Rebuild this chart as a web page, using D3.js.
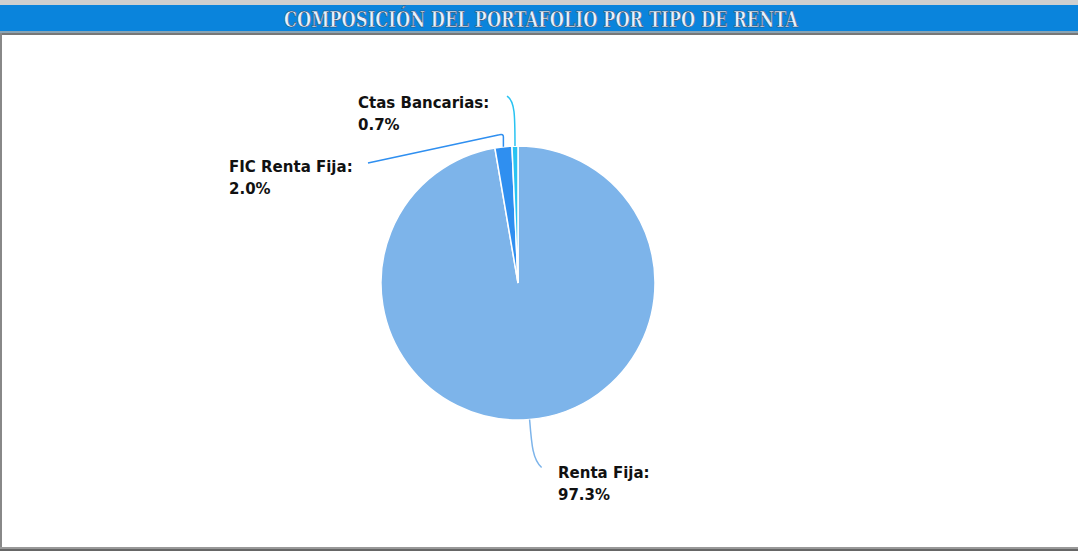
<!DOCTYPE html>
<html>
<head>
<meta charset="utf-8">
<script src="https://cdn.jsdelivr.net/npm/d3@7"></script>
<style>
  body { margin: 0; background: #fff; }
  .lbl { font-family: Tahoma, "DejaVu Sans", sans-serif; font-weight: bold; font-size: 15px; fill: #111; }
</style>
</head>
<body>
<div class="chart"></div>
<script>
var svgWidth = 1078;
var svgHeight = 554;

var chartTitle = "COMPOSICIÓN DEL PORTAFOLIO POR TIPO DE RENTA";
var categories = ["Renta Fija", "FIC Renta Fija", "Ctas Bancarias"];
var values = [97.3, 2.0, 0.7];
var colors = ["#7db4ea", "#2f8ff0", "#29c3f2"];

var cx = 518, cy = 283, radius = 137;

var svg = d3.select(".chart")
    .append("svg")
    .attr("width", svgWidth)
    .attr("height", svgHeight);

// frame
svg.append("rect").attr("x", 0).attr("y", 0).attr("width", svgWidth).attr("height", 5).attr("fill", "#cfcfcf");
svg.append("rect").attr("x", 0).attr("y", 5).attr("width", svgWidth).attr("height", 27).attr("fill", "#0a84dc");
svg.append("rect").attr("x", 0).attr("y", 31).attr("width", svgWidth).attr("height", 2).attr("fill", "#8aa4b4");
svg.append("rect").attr("x", 0).attr("y", 33).attr("width", svgWidth).attr("height", 2).attr("fill", "#777");
svg.append("rect").attr("x", 0).attr("y", 33).attr("width", 2).attr("height", 516).attr("fill", "#888");
svg.append("rect").attr("x", 0).attr("y", 547).attr("width", svgWidth).attr("height", 2).attr("fill", "#999");
svg.append("rect").attr("x", 0).attr("y", 549).attr("width", svgWidth).attr("height", 2).attr("fill", "#666");

svg.append("text")
    .attr("x", 541)
    .attr("y", 27)
    .attr("text-anchor", "middle")
    .attr("textLength", 514)
    .attr("lengthAdjust", "spacingAndGlyphs")
    .style("font-family", "'DejaVu Serif Condensed', 'DejaVu Serif', serif")
    .style("font-weight", "bold")
    .style("font-size", "21.5px")
    .style("fill", "#e6f2ff")
    .style("stroke", "#2a3a55")
    .style("stroke-width", 0.5)
    .text(chartTitle);

var data = categories.map(function(c, i) { return {name: c, value: values[i], color: colors[i]}; });

var pie = d3.pie().sort(null).value(function(d) { return d.value; });
var arc = d3.arc().innerRadius(0).outerRadius(radius);
var arcs = pie(data);

var chartGroup = svg.append("g").attr("transform", "translate(" + cx + "," + cy + ")");

chartGroup.selectAll("path.slice")
    .data(arcs)
    .enter()
    .append("path")
    .attr("class", "slice")
    .attr("d", arc)
    .attr("fill", function(d) { return d.data.color; })
    .attr("stroke", "#fff")
    .attr("stroke-width", 1.5);

// leader lines start at the outer edge of each slice
function edgePoint(d, r) {
    var a = (d.startAngle + d.endAngle) / 2;
    return [Math.sin(a) * r, -Math.cos(a) * r];
}

var labelPos = [
    {x: 558, y: 478, path: function(p) { return "M" + p[0] + "," + p[1] + " C" + (p[0] + 2) + "," + (p[1] + 25) + " " + (p[0] + 3) + "," + (p[1] + 40) + " " + (p[0] + 12) + "," + (p[1] + 48); }},
    {x: 229, y: 172, path: function(p) { return "M" + p[0] + "," + p[1] + " L" + p[0] + "," + (p[1] - 10) + " Q" + p[0] + "," + (p[1] - 13) + " " + (p[0] - 4) + "," + (p[1] - 12) + " L" + (-150) + "," + (-120); }},
    {x: 358, y: 108, path: function(p) { return "M" + p[0] + "," + p[1] + " C" + p[0] + "," + (p[1] - 30) + " " + p[0] + "," + (p[1] - 45) + " " + (p[0] - 8) + "," + (p[1] - 50); }}
];

arcs.forEach(function(d, i) {
    var p = edgePoint(d, radius);
    chartGroup.append("path")
        .attr("d", labelPos[i].path(p))
        .attr("fill", "none")
        .attr("stroke", d.data.color)
        .attr("stroke-width", 1.5);

    var t = svg.append("text")
        .attr("class", "lbl")
        .attr("x", labelPos[i].x)
        .attr("y", labelPos[i].y);
    t.append("tspan").attr("x", labelPos[i].x).text(d.data.name + ":");
    t.append("tspan").attr("x", labelPos[i].x).attr("dy", 22).text(d3.format(".1f")(d.data.value) + "%");
});
</script>
</body>
</html>
